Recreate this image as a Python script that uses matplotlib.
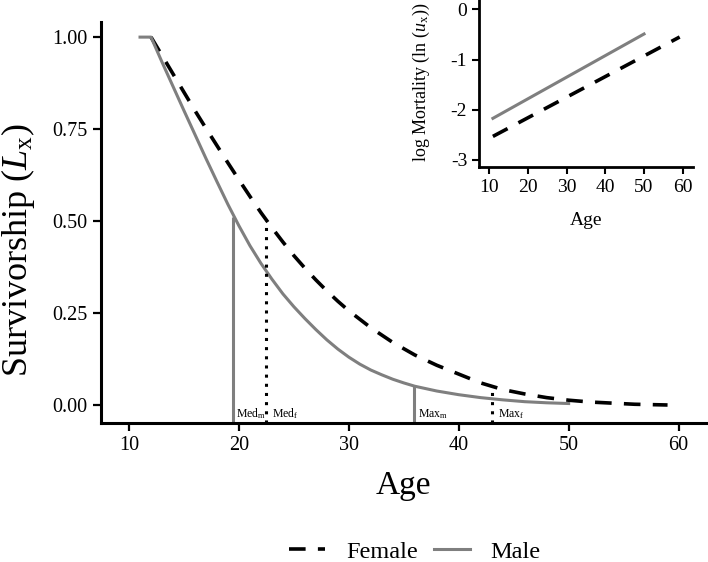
import numpy as np
import matplotlib
matplotlib.use('Agg')
from matplotlib import pyplot as plt

plt.rcParams['font.family'] = ['Liberation Serif', 'DejaVu Serif']
plt.rcParams['mathtext.fontset'] = 'custom'
plt.rcParams['mathtext.rm'] = 'Liberation Serif'
plt.rcParams['mathtext.it'] = 'Liberation Serif:italic'

# survivorship
male_age = [11, 12, 13, 14, 15, 16, 17, 18, 19, 20, 21, 22, 23, 24, 25, 26, 27, 28, 29, 30,
            31, 32, 33, 34, 35, 36, 38, 40, 42, 44, 46, 48, 50]
male_lx = [1.0, 1.0, 0.932, 0.866, 0.80, 0.735, 0.67, 0.607, 0.545, 0.487, 0.433, 0.385,
           0.342, 0.302, 0.267, 0.235, 0.205, 0.177, 0.152, 0.13, 0.111, 0.095, 0.082, 0.07,
           0.06, 0.051, 0.038, 0.028, 0.02, 0.014, 0.009, 0.006, 0.004]
female_age = [12, 13, 14, 15, 16, 17, 18, 19, 20, 21, 22, 23, 24, 25, 26, 27, 28, 29, 30,
              32, 34, 36, 38, 40, 42, 44, 46, 48, 50, 52, 54, 56, 59]
female_lx = [1.0, 0.95, 0.90, 0.85, 0.80, 0.752, 0.705, 0.658, 0.612, 0.567, 0.523, 0.482,
             0.443, 0.406, 0.372, 0.34, 0.31, 0.282, 0.256, 0.21, 0.17, 0.136, 0.108, 0.084,
             0.06, 0.042, 0.03, 0.02, 0.013, 0.008, 0.005, 0.002, 0.0]

# median / maximum markers (age, Lx)
med_m = (19.5, 0.51)
med_f = (22.5, 0.50)
max_m = (35.9, 0.052)
max_f = (43.0, 0.048)

# inset: log mortality (ends of the lines)
male_mort_age = [11, 50]
male_mort = [-2.17, -0.49]
female_mort_age = [11, 59.2]
female_mort = [-2.53, -0.55]

grey = '#7f7f7f'

fig = plt.figure(figsize=(7.08, 5.62), dpi=100)
ax = fig.add_axes([0.1427, 0.2473, 0.8545, 0.7135])

lf, = ax.plot(female_age, female_lx, color='black', lw=2.6, dashes=(4.6, 3.4))
lm, = ax.plot(male_age, male_lx, color=grey, lw=2.2)

ybot = -0.049
ax.vlines(med_m[0], ybot, med_m[1], color=grey, lw=2.2)
ax.vlines(max_m[0], ybot, max_m[1], color=grey, lw=2.2)
ax.vlines(med_f[0], ybot, med_f[1], color='black', lw=2.2, linestyles=(0, (1, 2)))
ax.vlines(max_f[0], ybot, max_f[1], color='black', lw=2.2, linestyles=(0, (1, 2)))

lab_y = -0.024
ax.text(med_m[0] + 0.22, lab_y, r'Med$_{\mathrm{m}}$', fontsize=8.5, va='center')
ax.text(med_f[0] + 0.55, lab_y, r'Med$_{\mathrm{f}}$', fontsize=8.5, va='center')
ax.text(max_m[0] + 0.35, lab_y, r'Max$_{\mathrm{m}}$', fontsize=8.5, va='center')
ax.text(max_f[0] + 0.55, lab_y, r'Max$_{\mathrm{f}}$', fontsize=8.5, va='center')

ax.set_xlim(7.45, 62.5)
ax.set_ylim(ybot, 1.041)
ax.set_xticks([10, 20, 30, 40, 50, 60])
ax.set_yticks([0, 0.25, 0.5, 0.75, 1.0])
ax.set_yticklabels(['0.00', '0.25', '0.50', '0.75', '1.00'])
for s in ['top', 'right']:
    ax.spines[s].set_visible(False)
for s in ['left', 'bottom']:
    ax.spines[s].set_linewidth(2.2)
ax.tick_params(width=1.6, length=6, labelsize=14.5)
ax.set_xlabel('Age', fontsize=24, labelpad=11)
ax.set_ylabel(r'Survivorship ($L_{\mathrm{x}}$)', fontsize=26, va='center')
ax.yaxis.set_label_coords(-0.137, 0.43)

fig.legend([lf, lm], ['Female', 'Male'], loc='center', bbox_to_anchor=(0.586, 0.018),
           ncol=2, frameon=False, fontsize=17.5, handlelength=1.5, columnspacing=0.65,
           handletextpad=0.85)

# inset
ins = fig.add_axes([0.6766, 0.7028, 0.302, 0.297])
ins.plot(female_mort_age, female_mort, color='black', lw=2.6, dashes=(4.6, 3.4))
ins.plot(male_mort_age, male_mort, color=grey, lw=2.2)
ins.set_xlim(7.42, 62.6)
ins.set_ylim(-3.14, 0.185)
ins.set_xticks([10, 20, 30, 40, 50, 60])
ins.set_yticks([0, -1, -2, -3])
ins.set_yticklabels(['0', '-1', '-2', '-3'])
for s in ['top', 'right']:
    ins.spines[s].set_visible(False)
for s in ['left', 'bottom']:
    ins.spines[s].set_linewidth(2.0)
ins.tick_params(width=1.5, length=5, labelsize=14)
ins.set_xlabel('Age', fontsize=14, labelpad=12)
ins.set_ylabel(r'log Mortality (ln ($u_{\mathrm{x}}$))', fontsize=13)
ins.yaxis.set_label_coords(-0.22, 0.51)

fig.savefig('out.png', dpi=100)
